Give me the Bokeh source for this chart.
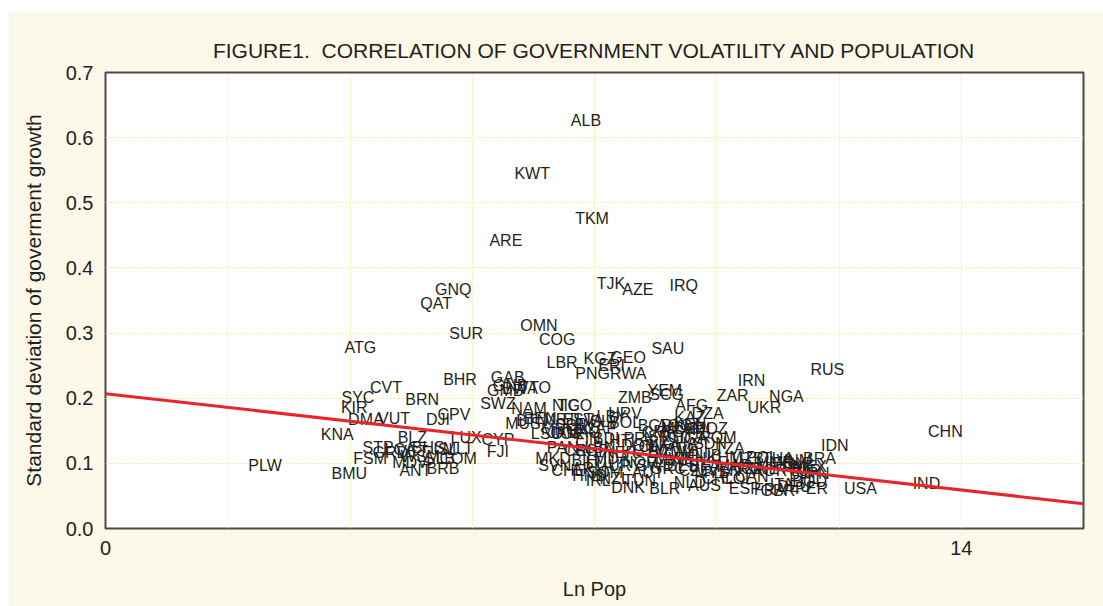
from bokeh.plotting import figure
from bokeh.models import Range1d, FixedTicker, PrintfTickFormatter, Title, ColumnDataSource
from bokeh.core.properties import value
from bokeh.embed import file_html
from bokeh.resources import INLINE

# ---------------- data ----------------
codes = [
    "ALB", "KWT", "TKM", "ARE", "TJK", "AZE", "IRQ", "GNQ", "QAT", "OMN",
    "SUR", "COG", "ATG", "SAU", "LBR", "KGZ", "GEO", "PNG", "RWA", "ERI",
    "RUS", "IRN", "ZAR", "NGA", "UKR", "BHR", "GAB", "GNB", "GMB", "BWA",
    "TTO", "SWZ", "CVT", "SYC", "KIR", "BRN", "NAM", "DMA", "VUT", "DJI",
    "CPV", "KNA", "BLZ", "LUX", "CYP", "FJI", "MUS", "LSO", "PLW", "BMU",
    "FSM", "STP", "GRD", "LCA", "VCT", "BHS", "ISL", "MLT", "MDV", "WSM",
    "SLB", "COM", "ANT", "BRB", "TGO", "NIC", "BTN", "BEN", "MRT", "EST",
    "LVA", "SLV", "BOL", "HRV", "LBY", "ZMB", "YEM", "SCG", "AFG", "DZA",
    "BGR", "KAZ", "KEN", "MOZ", "SYR", "ROM", "SDN", "GHA", "LKA", "GIN",
    "SLE", "MNG", "CAF", "JAM", "JOR", "LAO", "FIN", "BDI", "HTI", "PRY",
    "ISR", "TCD", "PAN", "CRI", "SGP", "LBN", "DOM", "CIV", "MDG", "CMR",
    "NPL", "UGA", "AGO", "GTM", "ECU", "ZWE", "MLI", "NER", "CUB", "TZA",
    "KHM", "UZB", "POL", "MKD", "SVN", "CHE", "ARM", "BIH", "LTU", "MDA",
    "URY", "NOR", "SWE", "AUT", "GRC", "BEL", "CZE", "BFA", "MWI", "SEN",
    "SOM", "HND", "IRL", "NZL", "DNK", "TUN", "BLR", "NLD", "AUS", "CHL",
    "COL", "VEN", "MYS", "ARG", "MAR", "CAN", "ESP", "ZAF", "KOR", "MMR",
    "THA", "EGY", "TUR", "ETH", "VNM", "PHL", "FRA", "ITA", "GBR", "DEU",
    "BGD", "PER", "MEX", "PAK", "JPN", "BRA", "IDN", "USA", "IND", "CHN",
]

ln_pop = [
    7.86, 6.98, 7.96, 6.55, 8.27, 8.71, 9.46, 5.69, 5.41, 7.09,
    5.90, 7.39, 4.17, 9.20, 7.47, 8.09, 8.55, 7.97, 8.55, 8.28,
    11.81, 10.57, 10.26, 11.14, 10.78, 5.80, 6.58, 6.62, 6.54, 6.78,
    7.03, 6.42, 4.59, 4.13, 4.07, 5.18, 6.93, 4.26, 4.72, 5.44,
    5.70, 3.79, 5.02, 5.90, 6.42, 6.42, 6.83, 7.22, 2.61, 3.99,
    4.33, 4.46, 4.66, 4.82, 5.02, 5.28, 5.56, 5.77, 4.98, 5.15,
    5.47, 5.77, 5.07, 5.52, 7.68, 7.53, 6.98, 7.11, 7.43, 7.73,
    7.92, 8.17, 8.50, 8.50, 8.28, 8.66, 9.15, 9.18, 9.59, 9.85,
    8.99, 9.56, 9.56, 9.89, 9.56, 10.02, 9.89, 9.40, 9.15, 7.76,
    7.60, 7.43, 8.09, 7.50, 7.57, 7.84, 7.89, 8.19, 8.45, 8.74,
    9.02, 9.31, 7.48, 7.73, 7.96, 8.09, 8.74, 8.94, 9.40, 9.07,
    9.72, 9.56, 9.31, 8.91, 9.15, 9.40, 9.64, 8.42, 9.80, 10.21,
    10.13, 10.51, 10.74, 7.32, 7.35, 7.57, 7.92, 7.84, 8.09, 8.28,
    8.50, 8.74, 8.99, 8.87, 9.20, 9.43, 9.64, 9.80, 9.26, 9.56,
    8.17, 7.92, 8.06, 8.33, 8.55, 8.74, 9.15, 9.56, 9.80, 10.02,
    10.34, 10.13, 9.92, 10.46, 10.29, 10.57, 10.46, 10.70, 10.87, 10.95,
    11.00, 11.19, 11.44, 11.11, 11.27, 11.44, 10.87, 11.06, 11.00, 11.27,
    11.52, 11.55, 11.52, 11.32, 11.60, 11.68, 11.93, 12.35, 13.43, 13.74,
]

sd_growth = [
    0.627, 0.545, 0.476, 0.442, 0.376, 0.367, 0.373, 0.367, 0.346, 0.312,
    0.300, 0.290, 0.278, 0.276, 0.255, 0.261, 0.263, 0.238, 0.238, 0.250,
    0.244, 0.227, 0.204, 0.203, 0.186, 0.229, 0.232, 0.220, 0.212, 0.215,
    0.217, 0.192, 0.217, 0.201, 0.186, 0.198, 0.184, 0.167, 0.169, 0.167,
    0.175, 0.144, 0.140, 0.140, 0.137, 0.118, 0.161, 0.146, 0.097, 0.084,
    0.108, 0.124, 0.117, 0.121, 0.118, 0.124, 0.121, 0.123, 0.101, 0.111,
    0.108, 0.108, 0.089, 0.092, 0.189, 0.189, 0.166, 0.169, 0.167, 0.167,
    0.166, 0.164, 0.163, 0.177, 0.172, 0.201, 0.212, 0.206, 0.189, 0.177,
    0.158, 0.171, 0.160, 0.154, 0.149, 0.140, 0.131, 0.131, 0.127, 0.158,
    0.160, 0.152, 0.154, 0.147, 0.146, 0.147, 0.138, 0.138, 0.135, 0.138,
    0.141, 0.140, 0.124, 0.120, 0.120, 0.124, 0.127, 0.126, 0.154, 0.147,
    0.154, 0.138, 0.158, 0.120, 0.117, 0.120, 0.117, 0.117, 0.112, 0.123,
    0.109, 0.108, 0.109, 0.108, 0.097, 0.089, 0.092, 0.104, 0.101, 0.108,
    0.097, 0.101, 0.097, 0.086, 0.092, 0.097, 0.089, 0.095, 0.108, 0.108,
    0.086, 0.081, 0.074, 0.077, 0.063, 0.074, 0.061, 0.071, 0.066, 0.077,
    0.077, 0.089, 0.086, 0.092, 0.097, 0.080, 0.061, 0.092, 0.089, 0.101,
    0.108, 0.100, 0.089, 0.092, 0.104, 0.077, 0.060, 0.068, 0.058, 0.065,
    0.072, 0.061, 0.095, 0.094, 0.084, 0.108, 0.127, 0.061, 0.069, 0.149,
]

fit_x = [0, 16]
fit_y = [0.207, 0.038]

x_ticks = [0, 14]
x_grid = [0, 2, 4, 6, 8, 10, 12, 14, 16]
y_ticks = [0.0, 0.1, 0.2, 0.3, 0.4, 0.5, 0.6, 0.7]

# ---------------- figure ----------------
FONT = "Liberation Sans"
INK = "#231F20"

p = figure(width=1095, height=595, output_backend="svg", toolbar_location=None,
           x_range=Range1d(0, 16), y_range=Range1d(0, 0.7),
           min_border_left=97, min_border_right=20, min_border_top=61, min_border_bottom=78)
p.margin = (11, 0, 0, 8)

p.background_fill_color = "white"
p.border_fill_color = "#FCF8EA"
p.outline_line_color = "#4A4A4A"
p.outline_line_width = 2

title = Title(text="FIGURE1.\u00a0 CORRELATION OF GOVERNMENT VOLATILITY AND POPULATION",
              align="center", text_font=FONT, text_font_size="21px",
              text_font_style="normal", text_color=INK, standoff=22)
p.add_layout(title, "above")

for ax in (p.xaxis[0], p.yaxis[0]):
    ax.axis_line_color = None
    ax.major_tick_line_color = None
    ax.minor_tick_line_color = None
    ax.major_tick_out = 0
    ax.major_tick_in = 0
    ax.minor_tick_out = 0
    ax.major_label_text_font = FONT
    ax.major_label_text_font_size = "20px"
    ax.major_label_text_color = INK
    ax.axis_label_text_font = FONT
    ax.axis_label_text_font_size = "20px"
    ax.axis_label_text_font_style = "normal"
    ax.axis_label_text_color = INK

p.yaxis.axis_label_text_font_size = "21px"
p.xaxis.ticker = FixedTicker(ticks=x_ticks)
p.yaxis.ticker = FixedTicker(ticks=y_ticks)
p.yaxis.formatter = PrintfTickFormatter(format="%.1f")
p.xaxis.axis_label = "Ln Pop"
p.yaxis.axis_label = "Standard deviation of goverment growth"
p.xaxis.major_label_standoff = 12
p.yaxis.major_label_standoff = 12
p.xaxis.axis_label_standoff = 20
p.yaxis.axis_label_standoff = 18

p.xgrid.ticker = FixedTicker(ticks=x_grid)
p.ygrid.ticker = FixedTicker(ticks=y_ticks)
for g in (p.xgrid[0], p.ygrid[0]):
    g.grid_line_color = "#F8EB98"
    g.grid_line_dash = "2 2"
    g.grid_line_width = 1

src = ColumnDataSource(data=dict(x=ln_pop, y=sd_growth, code=codes))
p.text(x="x", y="y", text="code", source=src, text_font=value(FONT),
       text_font_size="16px", text_color=INK, text_align="center",
       text_baseline="middle")

p.line(fit_x, fit_y, line_color="#E8262A", line_width=3)

open("out.html", "w").write(file_html(p, INLINE))
